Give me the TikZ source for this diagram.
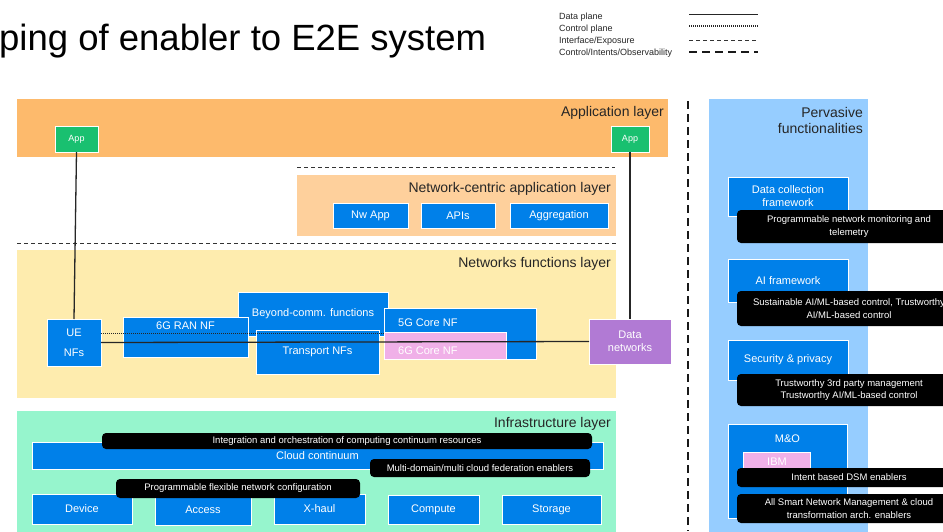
\documentclass[tikz,border=0pt]{standalone}
\usepackage{fontspec}
\setmainfont{Liberation Sans}
\definecolor{appOrange}{RGB}{253,186,108}
\definecolor{ncOrange}{RGB}{254,208,156}
\definecolor{nfYellow}{RGB}{254,236,174}
\definecolor{infraMint}{RGB}{150,245,205}
\definecolor{pervBlue}{RGB}{150,205,255}
\definecolor{boxBlue}{RGB}{0,128,233}
\definecolor{appGreen}{RGB}{25,192,112}
\definecolor{nfPink}{RGB}{240,176,232}
\definecolor{dnPurple}{RGB}{177,122,212}

% box given by its corners (x1,y1)-(x2,y2) in pixel-like units
\newcommand\laybox[7]{\node[#2,minimum width={(#5)-(#3)},minimum height={(#6)-(#4)}] (#1) at ({((#3)+(#5))/2},{((#4)+(#6))/2}) {#7};}

\begin{document}
\begin{tikzpicture}[x=1pt,y=-1pt,
  blk/.style={rectangle,inner sep=0pt,outer sep=0pt,align=center},
  layer/.style={blk,fill=#1},
  bluebox/.style={blk,fill=boxBlue,draw=white,line width=0.6pt,text=white,font=\fontsize{11}{13}\selectfont},
  appbox/.style={blk,fill=appGreen,draw=white,line width=0.6pt,text=white,font=\fontsize{9}{11}\selectfont},
  pinkbox/.style={blk,fill=nfPink,draw=white,line width=0.6pt},
  dnbox/.style={blk,fill=dnPurple,draw=white,line width=0.6pt,text=white,font=\fontsize{11}{13}\selectfont},
  tag/.style={blk,fill=black,rounded corners=4pt,text=white,font=\fontsize{9.5}{12.5}\selectfont},
  bluetext/.style={inner sep=0pt,text=white,font=\fontsize{11}{13}\selectfont},
  lyrlabel/.style={inner sep=0pt,text=black!85,font=\fontsize{14}{16}\selectfont},
  legtext/.style={inner sep=0pt,text=black!85,font=\fontsize{9}{11}\selectfont,anchor=base west},
  dataline/.style={line width=1.3pt,draw=black!85},
  ctrlline/.style={line width=1.5pt,draw=black!85,dash pattern=on 1.1pt off 0.9pt},
  expline/.style={line width=0.9pt,draw=black!80,dash pattern=on 4pt off 3pt},
  obsline/.style={line width=2.2pt,draw=black!90,dash pattern=on 8pt off 5pt}]

\fill[white] (0,0) rectangle (943,531);
\useasboundingbox (0,0) rectangle (943,531);

% title
\node[anchor=base west,inner sep=0pt,font=\fontsize{36.5}{40}\selectfont] (title) at (-1,50) {ping of enabler to E2E system};

% legend
\node[legtext] (lgdata) at (559,19.3) {Data plane};
\node[legtext] (lgctrl) at (559,31.3) {Control plane};
\node[legtext] (lgexp) at (559,43.3) {Interface/Exposure};
\node[legtext] (lgobs) at (559,55.3) {Control/Intents/Observability};
\draw[dataline] (689,14.3) -- (758,14.3);
\draw[ctrlline] (689,26) -- (758,26);
\draw[expline] (689,40) -- (758,40);
\draw[obsline] (689,52.3) -- (758,52.3);

% layers
\laybox{applayer}{layer=appOrange}{17}{99}{668}{157}{}
\laybox{nclayer}{layer=ncOrange}{297}{175}{616}{236}{}
\laybox{nflayer}{layer=nfYellow}{17}{250}{616}{398}{}
\laybox{infralayer}{layer=infraMint}{17}{411}{616}{540}{}
\laybox{pervlayer}{layer=pervBlue}{709}{99}{868}{540}{}

\node[lyrlabel,anchor=base east] (applbl) at (664,116) {Application layer};
\node[lyrlabel,anchor=base east] (nclbl) at (611,192) {Network-centric application layer};
\node[lyrlabel,anchor=base east] (nflbl) at (611,267) {Networks functions layer};
\node[lyrlabel,anchor=base east] (infralbl) at (611,427) {Infrastructure layer};
\node[lyrlabel,anchor=north east,align=right] (pervlbl) at (863,107) {Pervasive\\functionalities};

% separators
\draw[expline] (297,167) -- (615,167);
\draw[expline] (17,243) -- (616,243);
\draw[obsline] (688,101) -- (688,531);

% application layer
\laybox{appL}{appbox}{55}{126}{98}{152}{App}
\laybox{appR}{appbox}{611}{126}{649}{152}{App}

% network-centric application layer
\laybox{nwapp}{bluebox}{333}{203}{408}{228}{Nw App}
\laybox{apis}{bluebox}{421}{203}{495}{228}{APIs}
\laybox{aggr}{bluebox}{510}{203}{608}{228}{Aggregation}

% network functions layer
\laybox{beyond}{bluebox}{238}{292}{388}{336}{Beyond-comm. functions}
\laybox{ran6g}{bluebox}{123}{317}{248}{357}{}
\node[bluetext,anchor=base] (ran6gt) at (185.5,329) {6G RAN NF};
\laybox{transport}{bluebox}{256}{330}{379}{374}{Transport NFs}
\laybox{core5}{bluebox}{384}{308}{536}{359}{}
\node[bluetext,anchor=base west] (core5t) at (398,326) {5G Core NF};
\laybox{core6}{pinkbox}{384}{332}{506}{359}{}
\node[bluetext,anchor=base west] (core6t) at (398,354) {6G Core NF};
\laybox{ue}{bluebox}{47}{319}{101}{366}{UE\\[7pt]NFs}
\laybox{dn}{dnbox}{589}{319}{671}{364}{Data\\networks}

% connectors
\draw[dataline] (appL.south) -- (ue.north);
\draw[dataline] (appR.south) -- (dn.north);
\draw[ctrlline] (ue.east |- core5.west) -- (core5.west);
\draw[dataline] (ue.east) -- (dn.west);

% infrastructure layer
\laybox{cloud}{bluebox}{32}{442}{603}{469}{Cloud continuum}
\laybox{integ}{tag}{102}{433}{592}{449}{Integration and orchestration of computing continuum resources}
\laybox{multi}{tag}{370}{459}{590}{477}{Multi-domain/multi cloud federation enablers}
\laybox{device}{bluebox}{32}{494}{132}{524}{Device}
\laybox{access}{bluebox}{155}{495}{251}{525}{Access}
\laybox{xhaul}{bluebox}{274}{494}{365}{524}{X-haul}
\laybox{compute}{bluebox}{388}{495}{479}{524}{Compute}
\laybox{storage}{bluebox}{502}{495}{601}{524}{Storage}
\laybox{progflex}{tag}{116}{479}{360}{498}{Programmable flexible network configuration}

% pervasive functionalities
\laybox{dcf}{bluebox}{728}{177}{848}{216}{Data collection\\framework}
\laybox{mon}{tag}{737}{210}{961}{243}{Programmable network monitoring and\\telemetry}
\laybox{aif}{bluebox}{728}{259}{848}{302}{AI framework}
\laybox{sust}{tag}{737}{291}{961}{326}{Sustainable AI/ML-based control, Trustworthy\\AI/ML-based control}
\laybox{sec}{bluebox}{728}{340}{848}{380}{Security \& privacy}
\laybox{trust}{tag}{737}{374}{961}{406}{Trustworthy 3rd party management\\Trustworthy AI/ML-based control}
\laybox{mo}{bluebox}{728}{424}{847}{518}{}
\node[bluetext,anchor=base] (mot) at (787.5,442) {M\&O};
\laybox{ibm}{pinkbox}{743}{452}{810}{471}{}
\node[bluetext,anchor=base] (ibmt) at (777,465) {IBM};
\laybox{intent}{tag}{737}{468}{961}{487}{Intent based DSM enablers}
\laybox{allsmart}{tag}{737}{494}{961}{523}{All Smart Network Management \& cloud\\transformation arch. enablers}

\end{tikzpicture}
\end{document}
